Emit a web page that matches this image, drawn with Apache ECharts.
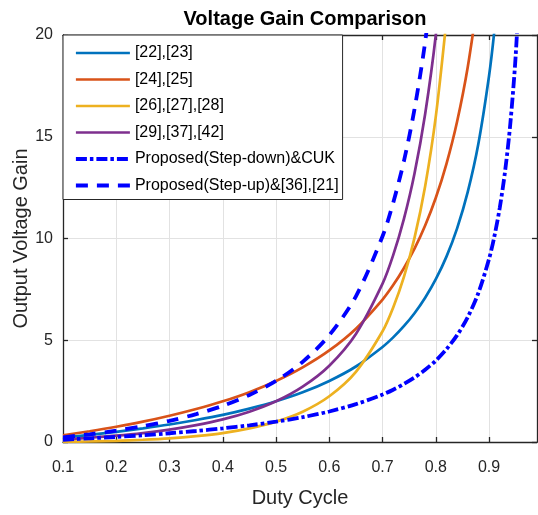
<!DOCTYPE html>
<html><head><meta charset="utf-8">
<script src="https://cdn.jsdelivr.net/npm/echarts@6/dist/echarts.min.js"></script>
<style>html,body{margin:0;padding:0;background:#fff}#c{width:538px;height:515px}</style>
</head><body><div id="c"></div>
<script>
// Duty cycle sample points (x)
const duty = [0.10,0.15,0.20,0.25,0.30,0.35,0.40,0.45,0.50,0.55,0.60,0.65,0.70,0.72,0.74,0.76,0.78,0.80,0.82,0.84,0.86,0.88,0.90,0.91,0.92,0.93,0.94,0.95,0.96];
// Gains (series run until they leave the top of the plot)
const gainRef2223 = [0.22,0.35,0.50,0.67,0.86,1.08,1.33,1.64,2.00,2.44,3.00,3.71,4.67,5.14,5.69,6.33,7.09,8.00,9.11,10.50,12.29,14.67,18.00,20.22,23.00];
const gainRef2425 = [0.33,0.53,0.75,1.00,1.29,1.62,2.00,2.45,3.00,3.67,4.50,5.57,7.00,7.71,8.54,9.50,10.64,12.00,13.67,15.75,18.43,22.00];
const gainRef262728 = [0.01,0.03,0.06,0.11,0.18,0.29,0.44,0.67,1.00,1.49,2.25,3.45,5.44,6.61,8.10,10.03,12.57,16.00,20.75];
const gainRef293742 = [0.12,0.21,0.31,0.44,0.61,0.83,1.11,1.49,2.00,2.72,3.75,5.31,7.78,9.18,10.95,13.19,16.12,20.00,25.31];
const gainStepDown = [0.11,0.18,0.25,0.33,0.43,0.54,0.67,0.82,1.00,1.22,1.50,1.86,2.33,2.57,2.85,3.17,3.55,4.00,4.56,5.25,6.14,7.33,9.00,10.11,11.50,13.29,15.67,19.00,24.00];
const gainStepUp = [0.23,0.38,0.56,0.78,1.04,1.37,1.78,2.31,3.00,3.94,5.25,7.16,10.11,11.76,13.79,16.36,19.66,24.00];

const seriesNames = ['[22],[23]','[24],[25]','[26],[27],[28]','[29],[37],[42]','Proposed(Step-down)&CUK','Proposed(Step-up)&[36],[21]'];
const xTicks = [0.1,0.2,0.3,0.4,0.5,0.6,0.7,0.8,0.9];
const yTicks = [0,5,10,15,20];
const xMin = 0.1, xMax = 0.99, yMin = 0, yMax = 20, yStep = 5;

const FONT = "'Liberation Sans',Arial,sans-serif";
const AX = '#262626';
const GRIDC = '#e2e2e2';

function pairs(vals){ return vals.map((v,i)=>[duty[i], v]); }

const styles = [
  {color:'#0072BD', width:2.7, type:'solid'},
  {color:'#D95319', width:2.7, type:'solid'},
  {color:'#EDB120', width:2.7, type:'solid'},
  {color:'#7E2F8E', width:2.7, type:'solid'},
  {color:'#0000FF', width:3.8, type:[11,3,3.5,3]},
  {color:'#0000FF', width:3.8, type:[12,9]}
];
const values = [gainRef2223, gainRef2425, gainRef262728, gainRef293742, gainStepDown, gainStepUp];

const series = values.map((vals,i)=>({
  name: seriesNames[i],
  type:'line',
  data: pairs(vals),
  symbol:'none',
  smooth:0.3,
  clip:true,
  lineStyle:{color:styles[i].color, width:styles[i].width, type:styles[i].type, cap:'butt'},
  itemStyle:{color:styles[i].color},
  emphasis:{disabled:true},
  animation:false
}));

const tickCommon = {inside:true, length:5, lineStyle:{color:AX, width:1.3}};

const option = {
  animation:false,
  title:{
    text:'Voltage Gain Comparison',
    left:300, top:4, textAlign:'center',
    textStyle:{fontFamily:FONT, fontSize:20, fontWeight:'bold', color:'#000'}
  },
  grid:{left:63, right:1, top:35, bottom:73, containLabel:false},
  legend:{
    orient:'vertical', left:63, top:35,
    padding:[10,4,6,11], itemWidth:54, itemHeight:14, itemGap:10.5,
    backgroundColor:'#fff', borderColor:AX, borderWidth:1, borderRadius:0,
    itemStyle:{opacity:0, borderWidth:0},
    lineStyle:{width:'inherit'},
    textStyle:{fontFamily:FONT, fontSize:16, color:'#000', lineHeight:16},
    data: seriesNames
  },
  xAxis:[{
    type:'value', min:xMin, max:xMax, position:'bottom',
    name:'Duty Cycle', nameLocation:'middle', nameGap:46, nameMoveOverlap:false,
    nameTextStyle:{fontFamily:FONT, fontSize:20, color:AX},
    axisLine:{show:true, onZero:false, lineStyle:{color:AX, width:1.3}},
    axisTick:Object.assign({customValues:xTicks}, tickCommon),
    axisLabel:{customValues:xTicks, formatter:v=>v.toFixed(1), fontFamily:FONT, fontSize:16, color:AX, margin:18},
    splitLine:{show:true, lineStyle:{color:GRIDC, width:1}}
  },{
    type:'value', min:xMin, max:xMax, position:'top',
    axisLine:{show:true, onZero:false, lineStyle:{color:AX, width:1.3}},
    axisTick:Object.assign({customValues:xTicks}, tickCommon),
    axisLabel:{show:false},
    splitLine:{show:false}
  }],
  yAxis:[{
    type:'value', min:yMin, max:yMax, interval:yStep, position:'left',
    name:'Output Voltage Gain', nameLocation:'middle', nameGap:32, nameMoveOverlap:false,
    nameTextStyle:{fontFamily:FONT, fontSize:20, color:AX},
    axisLine:{show:true, onZero:false, lineStyle:{color:AX, width:1.3}},
    axisTick:Object.assign({customValues:yTicks}, tickCommon),
    axisLabel:{customValues:yTicks, fontFamily:FONT, fontSize:16, color:AX, margin:10},
    splitLine:{show:true, lineStyle:{color:GRIDC, width:1}}
  },{
    type:'value', min:yMin, max:yMax, interval:yStep, position:'right',
    axisLine:{show:true, onZero:false, lineStyle:{color:AX, width:1.3}},
    axisTick:Object.assign({customValues:yTicks}, tickCommon),
    axisLabel:{show:false},
    splitLine:{show:false}
  }],
  series: series
};

const chart = echarts.init(document.getElementById('c'), null, {renderer:'canvas'});
chart.setOption(option);
</script>
</body></html>
